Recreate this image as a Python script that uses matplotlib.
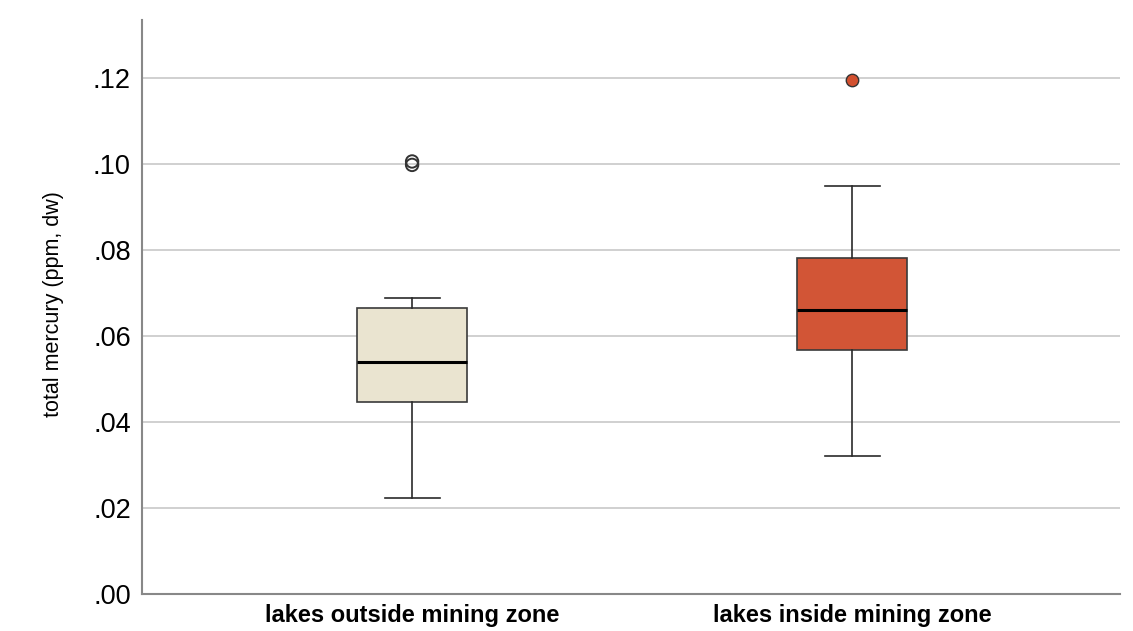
import matplotlib.pyplot as plt

plt.rcParams['font.family'] = ['Liberation Sans', 'DejaVu Sans']

groups = ["lakes outside mining zone", "lakes inside mining zone"]
q1 = [0.0447, 0.0567]
medians = [0.0540, 0.0661]
q3 = [0.0665, 0.0782]
whislo = [0.0223, 0.0321]
whishi = [0.0689, 0.0949]
outliers = [[0.0998, 0.1006], [0.1195]]
box_colors = ["#EAE4D0", "#D25536"]

stats = []
for i in range(len(groups)):
    stats.append({"label": groups[i], "q1": q1[i], "med": medians[i], "q3": q3[i],
                  "whislo": whislo[i], "whishi": whishi[i], "fliers": []})

fig = plt.figure(figsize=(11.33, 6.31), dpi=100)
ax = fig.add_axes([0.1253, 0.0586, 0.8632, 0.9097])

ax.yaxis.grid(True, color="#C8C8C8", linewidth=1.2)
ax.set_axisbelow(True)

bp = ax.bxp(stats, positions=[1, 2], widths=0.25, patch_artist=True, showfliers=False,
            boxprops=dict(edgecolor="#3a3a3a", linewidth=1.2),
            medianprops=dict(color="black", linewidth=2.2),
            whiskerprops=dict(color="#2a2a2a", linewidth=1.2),
            capprops=dict(color="#2a2a2a", linewidth=1.2))
for patch, c in zip(bp["boxes"], box_colors):
    patch.set_facecolor(c)

# outliers
ax.scatter([1] * len(outliers[0]), outliers[0], s=80, facecolors="none",
           edgecolors="#333333", linewidths=1.4, zorder=5)
ax.scatter([2] * len(outliers[1]), outliers[1], s=80, facecolors="#D2502F",
           edgecolors="#333333", linewidths=1.0, zorder=5)

ax.set_xlim(0.386, 2.609)
ax.set_ylim(0, 0.1335)
yt = [0, 0.02, 0.04, 0.06, 0.08, 0.10, 0.12]
ax.set_yticks(yt)
ax.set_yticklabels([".00", ".02", ".04", ".06", ".08", ".10", ".12"], fontsize=19.5)
ax.set_xticks([1, 2])
ax.set_xticklabels(groups, fontsize=17, fontweight="bold")
ax.tick_params(axis="y", length=0, pad=8)
ax.tick_params(axis="x", length=0, pad=7)
ax.set_ylabel("total mercury (ppm, dw)", fontsize=15.5)
ax.yaxis.set_label_coords(-0.08, 0.505)

for s in ["top", "right"]:
    ax.spines[s].set_visible(False)
for s in ["left", "bottom"]:
    ax.spines[s].set_color("#888888")
    ax.spines[s].set_linewidth(1.5)

fig.savefig("out.png", dpi=100, facecolor="white")
